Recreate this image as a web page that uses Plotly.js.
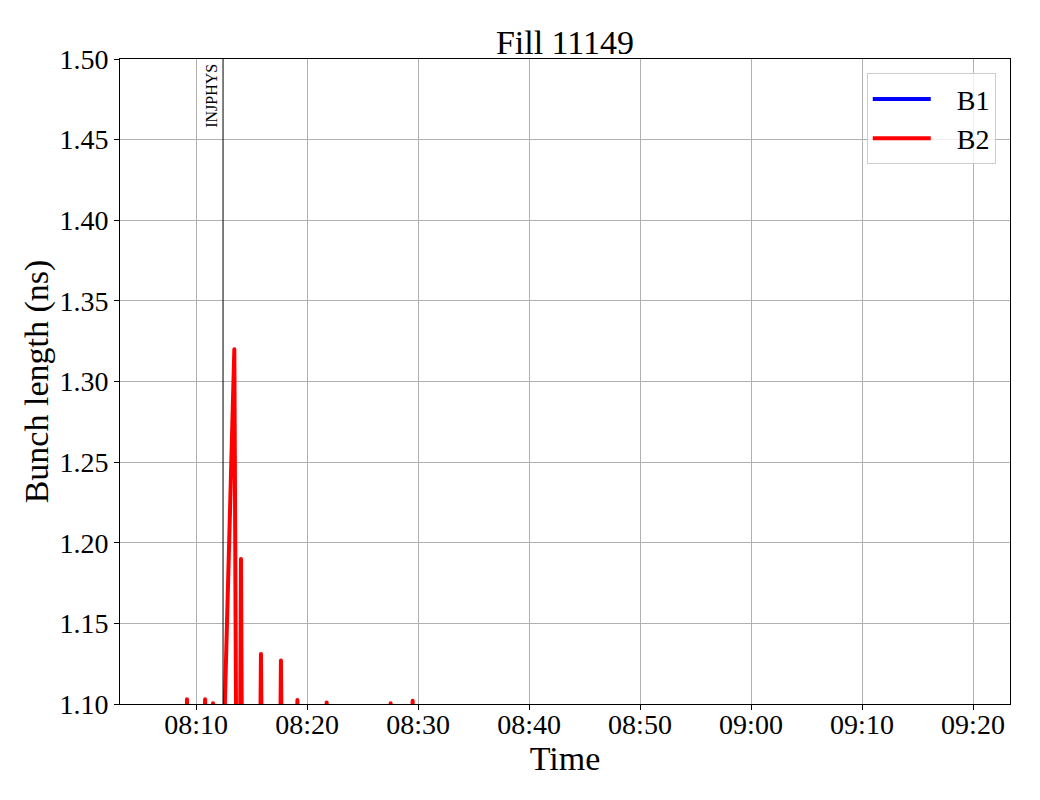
<!DOCTYPE html>
<html>
<head>
<meta charset="utf-8">
<script src="https://cdn.plot.ly/plotly-3.0.1.min.js"></script>
<style>
html,body{margin:0;padding:0;background:#fff;}
#chart{width:1040px;height:800px;}
#chart .scatterlayer path.js-line{stroke-linejoin:round !important;stroke-linecap:round !important;}
</style>
</head>
<body>
<div id="chart"></div>
<script>
const DAY = "2025-08-13 ";
const b2Times = ["08:05:00","08:09:05","08:09:11","08:09:17","08:10:43","08:10:49","08:10:55",
  "08:11:27","08:11:32","08:11:37","08:12:24","08:13:27","08:13:38","08:13:57","08:14:03","08:14:09",
  "08:15:45","08:15:51","08:15:57","08:17:33","08:17:39","08:17:45","08:19:02","08:19:08","08:19:14",
  "08:21:40","08:21:46","08:21:52","08:27:26","08:27:32","08:27:38","08:29:25","08:29:31","08:29:37","09:20:00"];
const b2Values = [1.05,1.05,1.103,1.05,1.05,1.103,1.05,
  1.05,1.1005,1.05,1.05,1.32,1.05,1.05,1.19,1.05,
  1.05,1.131,1.05,1.05,1.127,1.05,1.05,1.1025,1.05,
  1.05,1.101,1.05,1.05,1.1005,1.05,1.05,1.102,1.05,1.05];
const b1Times = ["08:05:00","08:30:00","09:20:00"];
const b1Values = [1.05,1.05,1.05];
const eventName = "INJPHYS";
const eventTime = "08:12:26";
const yTicks = [1.10,1.15,1.20,1.25,1.30,1.35,1.40,1.45,1.50];
const xTickTimes = ["08:10","08:20","08:30","08:40","08:50","09:00","09:10","09:20"];

const serif = "Liberation Serif, Times New Roman, serif";
const pad = "\u00a0\u00a0\u00a0";
const traces = [
  {x: b1Times.map(t => DAY + t), y: b1Values, name: pad + "B1", mode: "lines",
   line: {color: "#0000ff", width: 4}},
  {x: b2Times.map(t => DAY + t), y: b2Values, name: pad + "B2", mode: "lines",
   line: {color: "#ff0000", width: 4}}
];
const layout = {
  width: 1040, height: 800,
  margin: {l: 120, r: 30, t: 59, b: 96},
  paper_bgcolor: "#fff", plot_bgcolor: "#fff",
  font: {family: serif, color: "#000", size: 28},
  title: {text: "Fill 11149", font: {family: serif, size: 34, color: "#000"},
          xref: "paper", x: 0.5, xanchor: "center", y: 1 - 42/800, yanchor: "middle"},
  xaxis: {
    type: "date",
    range: [DAY + "08:03:09", DAY + "09:23:20"],
    tickvals: xTickTimes.map(t => DAY + t + ":00"),
    ticktext: xTickTimes,
    showgrid: true, gridcolor: "#b0b0b0", gridwidth: 1,
    showline: true, linecolor: "#000", linewidth: 1, mirror: true,
    ticks: "outside", ticklen: 5, tickcolor: "#000",
    ticklabelstandoff: -10,
    tickfont: {family: serif, size: 28, color: "#000"},
    title: {text: "Time", font: {family: serif, size: 34, color: "#000"}, standoff: 0},
    zeroline: false
  },
  yaxis: {
    range: [1.10, 1.50],
    tickvals: yTicks,
    ticktext: yTicks.map(v => v.toFixed(2)),
    showgrid: true, gridcolor: "#b0b0b0", gridwidth: 1,
    showline: true, linecolor: "#000", linewidth: 1, mirror: true,
    ticks: "outside", ticklen: 5, tickcolor: "#000",
    tickfont: {family: serif, size: 28, color: "#000"},
    title: {text: "Bunch length (ns)", font: {family: serif, size: 34, color: "#000"}, standoff: 0},
    zeroline: false
  },
  legend: {
    x: 0.984, xanchor: "right", y: 0.978, yanchor: "top",
    bgcolor: "rgba(255,255,255,0.8)", bordercolor: "#cccccc", borderwidth: 1,
    font: {family: serif, size: 28, color: "#000"},
    itemwidth: 58, tracegroupgap: 6
  },
  shapes: [{
    type: "line", xref: "x", yref: "paper",
    x0: DAY + eventTime, x1: DAY + eventTime, y0: 0, y1: 1,
    line: {color: "#000", width: 1}
  }],
  annotations: [{
    text: eventName, xref: "x", yref: "paper",
    x: DAY + eventTime, y: 0.995, xanchor: "right", yanchor: "top",
    textangle: -90, showarrow: false, xshift: -1,
    font: {family: serif, size: 16, color: "#000"}
  }]
};
Plotly.newPlot("chart", traces, layout, {displayModeBar: false, staticPlot: true});
</script>
</body>
</html>
